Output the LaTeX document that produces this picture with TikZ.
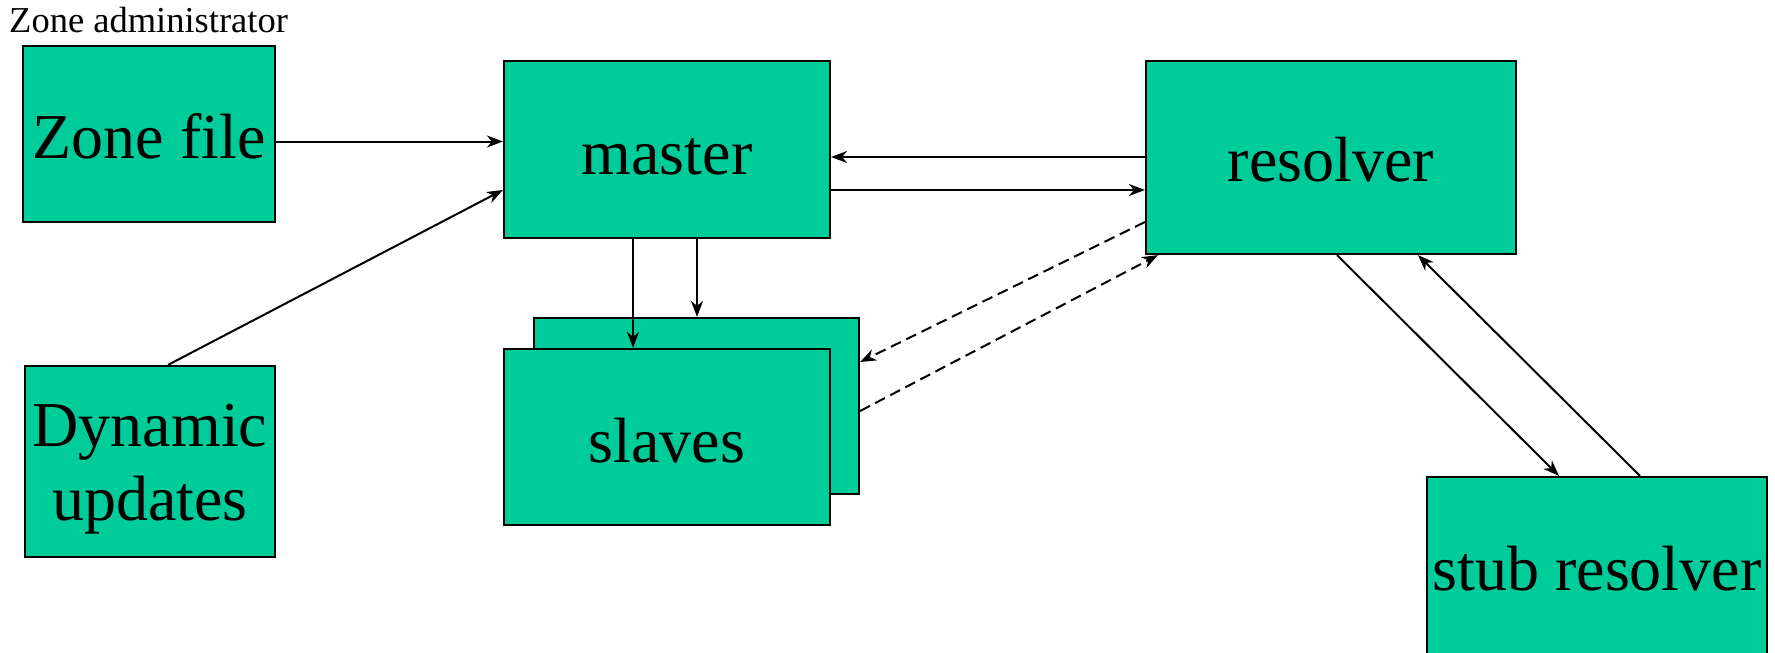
\documentclass[tikz,border=0pt]{standalone}
\usepackage{fontspec}
\setmainfont{Liberation Serif}
\usetikzlibrary{arrows.meta}
\definecolor{boxgreen}{RGB}{0,204,153}
\begin{document}
\begin{tikzpicture}[x=1pt,y=-1pt,
  box/.style={draw=black, line width=2.2pt, fill=boxgreen, inner sep=0pt},
  txt/.style={anchor=base, inner sep=0pt, font=\fontsize{64}{73}\selectfont},
  link/.style={line width=2pt, -{Stealth[length=16pt,width=12pt,inset=5pt]}},
  dlink/.style={link, dash pattern=on 11pt off 6pt}]
\useasboundingbox (0,0) rectangle (1775,653);

% boxes
\node[box, minimum width=252pt, minimum height=176pt] (zf) at (149,134) {};
\node[box, minimum width=326pt, minimum height=177pt] (master) at (667,149.5) {};
\node[box, minimum width=325pt, minimum height=176pt] (back) at (696.5,406) {};
\node[box, minimum width=326pt, minimum height=176pt] (front) at (667,437) {};
\node[box, minimum width=370pt, minimum height=193pt] (resolver) at (1331,157.5) {};
\node[box, minimum width=250pt, minimum height=191pt] (dyn) at (150,461.5) {};
\node[box, minimum width=340pt, minimum height=186pt] (stub) at (1597,570) {};

% labels
\node[anchor=base west, inner sep=0pt, font=\fontsize{36.5}{42}\selectfont] (zadmin) at (9,32) {Zone administrator};
\node[txt] (zfT) at (zf.center |- 0,158) {Zone file};
\node[txt] (masterT) at (master.center |- 0,174) {master};
\node[txt] (frontT) at (front.center |- 0,462) {slaves};
\node[txt] (resolverT) at (resolver.center |- 0,181) {resolver};
\node[txt] (dynT1) at (dyn.center |- 0,446) {Dynamic};
\node[txt] (dynT2) at (dyn.center |- 0,520) {updates};
\node[txt] (stubT) at (stub.center |- 0,590) {stub resolver};

% connectors
\draw[link] (zf.east |- 0,141.5) -- (master.west |- 0,141.5);
\draw[link] (dyn.north -| 168,0) -- (master.west |- 0,190);
\draw[link] (resolver.west |- 0,157) -- (master.east |- 0,157);
\draw[link] (master.east |- 0,190) -- (resolver.west |- 0,190);
\draw[link] (master.south -| 633,0) -- (front.north -| 633,0);
\draw[link] (master.south -| 697,0) -- (back.north -| 697,0);
\draw[dlink] (resolver.west |- 0,222) -- (back.east |- 0,362);
\draw[dlink] (back.east |- 0,411) -- (resolver.south -| 1158,0);
\draw[link] (resolver.south -| 1337,0) -- (stub.north -| 1559,0);
\draw[link] (stub.north -| 1640,0) -- (resolver.south -| 1418,0);
\end{tikzpicture}
\end{document}
